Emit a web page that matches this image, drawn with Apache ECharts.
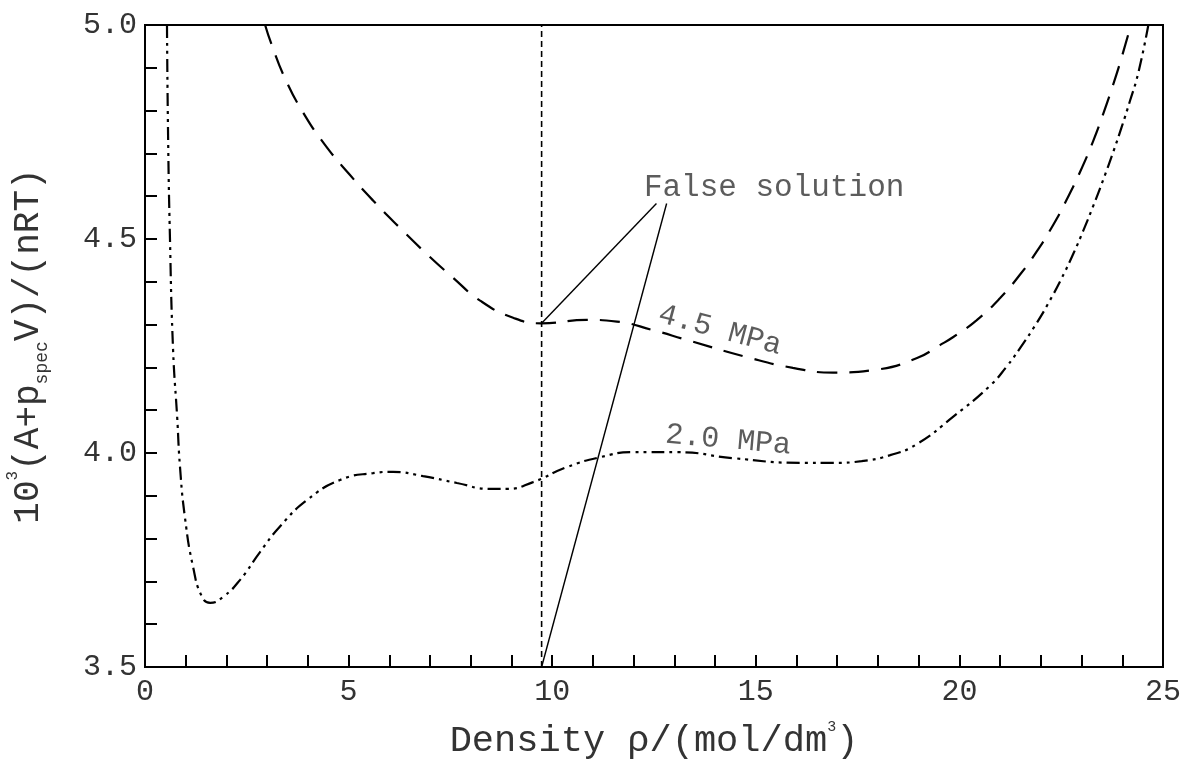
<!DOCTYPE html>
<html>
<head>
<meta charset="utf-8">
<script src="https://cdn.jsdelivr.net/npm/echarts@6/dist/echarts.min.js"></script>
<style>
html,body{margin:0;padding:0;background:#fff;}
#chart{width:1183px;height:762px;}
</style>
</head>
<body>
<div id="chart"></div>
<script>
// ---- data ----
const rho45 = [2.95, 3.11, 3.44, 3.88, 4.42, 5.03, 5.6, 6.26, 6.93, 7.56, 8.23, 9.04, 9.74, 10.85, 11.59, 12.48, 13.31, 14.78, 15.91, 16.9, 17.98, 18.96, 19.52, 19.85, 20.42, 21.0, 21.49, 21.9, 22.31, 22.63, 22.96, 23.29, 23.53, 23.78, 23.99, 24.21];
const val45 = [5.0, 4.954, 4.875, 4.796, 4.720, 4.650, 4.590, 4.526, 4.464, 4.410, 4.356, 4.316, 4.303, 4.311, 4.307, 4.287, 4.264, 4.224, 4.199, 4.188, 4.195, 4.222, 4.252, 4.271, 4.310, 4.362, 4.417, 4.471, 4.534, 4.591, 4.656, 4.730, 4.792, 4.862, 4.926, 5.0];

const rho20 = [0.54, 0.565, 0.61, 0.69, 0.79, 0.86, 0.98, 1.18, 1.40, 1.60, 1.92, 2.33, 2.82, 3.32, 3.98, 4.79, 5.6, 6.09, 6.83, 7.66, 8.47, 8.89, 9.53, 10.36, 11.17, 11.98, 13.06, 14.44, 16.09, 16.9, 17.6, 18.3, 18.96, 19.85, 20.75, 21.16, 21.49, 21.9, 22.22, 22.51, 22.8, 23.04, 23.29, 23.53, 23.78, 23.99, 24.19, 24.39, 24.64];
const val20 = [5.0, 4.755, 4.514, 4.24, 4.084, 3.967, 3.85, 3.734, 3.664, 3.65, 3.664, 3.703, 3.768, 3.829, 3.89, 3.937, 3.953, 3.956, 3.946, 3.93, 3.916, 3.916, 3.932, 3.967, 3.99, 4.002, 4.002, 3.988, 3.977, 3.977, 3.981, 3.995, 4.021, 4.085, 4.157, 4.202, 4.245, 4.304, 4.356, 4.408, 4.466, 4.519, 4.578, 4.638, 4.704, 4.763, 4.823, 4.887, 5.0];

const falseSolRho = 9.74;                       // vertical dashed line position
const pointerA = [[9.74, 4.303], [12.56, 4.583]];
const pointerB = [[9.74, 3.5], [12.81, 4.583]];

const xTickLabels = [0, 5, 10, 15, 20, 25];
const yTickLabels = ['3.5', '4.0', '4.5', '5.0'];

const annotations = [
  { text: 'False solution', pos: [15.45, 4.62], rotate: 0 },
  { text: '4.5 MPa', pos: [14.12, 4.287], rotate: -15 },
  { text: '2.0 MPa', pos: [14.32, 4.03], rotate: -5 }
];

// ---- chart ----
const FONT = '"Liberation Mono", "DejaVu Sans Mono", monospace';
const TXT = '#333';
const zip = (a, b) => a.map((v, i) => [v, b[i]]);

const chart = echarts.init(document.getElementById('chart'), null, { renderer: 'canvas' });

const option = {
  backgroundColor: '#fff',
  animation: false,
  grid: {
    left: 145, right: 20, top: 25, bottom: 95,
    outerBoundsMode: 'none', containLabel: false,
    show: true, borderColor: '#000', borderWidth: 2, backgroundColor: 'transparent'
  },
  xAxis: {
    type: 'value', min: 0, max: 25, interval: 1,
    axisLine: { show: true, lineStyle: { color: '#000', width: 2 } },
    axisTick: { show: true, inside: true, length: 12, lineStyle: { color: '#000', width: 2 } },
    splitLine: { show: false },
    axisLabel: {
      fontFamily: FONT, fontSize: 30, color: TXT, margin: 10,
      formatter: v => xTickLabels.some(t => Math.abs(t - v) < 1e-6) ? String(Math.round(v)) : ''
    },
    name: 'Density ρ/(mol/dm{sup|3})',
    nameLocation: 'middle', nameGap: 53,
    nameTextStyle: {
      fontFamily: FONT, fontSize: 37, color: TXT, lineHeight: 42,
      rich: { sup: { fontFamily: FONT, fontSize: 15, color: TXT, verticalAlign: 'top', lineHeight: 20 } }
    }
  },
  yAxis: {
    type: 'value', min: 3.5, max: 5.0, interval: 0.1,
    axisLine: { show: true, lineStyle: { color: '#000', width: 2 } },
    axisTick: { show: true, inside: true, length: 12, lineStyle: { color: '#000', width: 2 } },
    splitLine: { show: false },
    axisLabel: {
      fontFamily: FONT, fontSize: 30, color: TXT, margin: 8,
      formatter: v => {
        const s = v.toFixed(1);
        return (yTickLabels.indexOf(s) >= 0 && Math.abs(v * 2 - Math.round(v * 2)) < 1e-6) ? s : '';
      }
    },
    name: '10{sup|3}(A+p{sub|spec}V)/(nRT)',
    nameLocation: 'middle', nameGap: 94, nameRotate: 90,
    nameTextStyle: {
      fontFamily: FONT, fontSize: 36, color: TXT, lineHeight: 46,
      rich: {
        sup: { fontFamily: FONT, fontSize: 16, color: TXT, verticalAlign: 'top', lineHeight: 19 },
        sub: { fontFamily: FONT, fontSize: 18, color: TXT, verticalAlign: 'bottom', lineHeight: 18 }
      }
    }
  },
  series: [
    {
      name: '4.5 MPa', type: 'line', data: zip(rho45, val45),
      smooth: 0.5, showSymbol: false, symbol: 'none', clip: true,
      lineStyle: { color: '#000', width: 2.2, type: [20, 12] }
    },
    {
      name: '2.0 MPa', type: 'line', data: zip(rho20, val20),
      smooth: 0.5, showSymbol: false, symbol: 'none', clip: true,
      lineStyle: { color: '#000', width: 2.2, type: [13, 5, 3, 5, 3, 5] }
    },
    {
      name: 'marker', type: 'line', data: [[falseSolRho, 3.5], [falseSolRho, 5.0]],
      symbol: 'none', lineStyle: { color: '#000', width: 1.6, type: [6, 4] }
    },
    {
      name: 'pointerA', type: 'line', data: pointerA,
      symbol: 'none', lineStyle: { color: '#000', width: 1.4 }
    },
    {
      name: 'pointerB', type: 'line', data: pointerB,
      symbol: 'none', lineStyle: { color: '#000', width: 1.4 }
    },
    {
      name: 'labels', type: 'scatter', symbolSize: 0.001,
      data: annotations.map(a => ({
        value: a.pos,
        label: { show: true, formatter: a.text, rotate: a.rotate, position: 'inside',
                 fontFamily: FONT, fontSize: a.text === 'False solution' ? 31 : 30, color: TXT }
      })),
      itemStyle: { color: 'transparent' },
      silent: true
    }
  ]
};
chart.setOption(option);
</script>
</body>
</html>
